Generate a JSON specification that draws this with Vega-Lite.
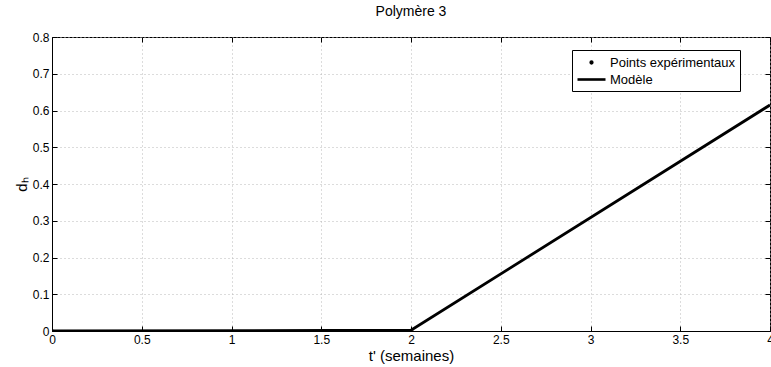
{
  "$schema": "https://vega.github.io/schema/vega-lite/v6.json",
  "width": 718,
  "height": 294,
  "autosize": {"type": "none"},
  "padding": {"left": 52, "top": 37, "right": 1, "bottom": 36},
  "background": "white",
  "config": {
    "font": "Liberation Sans",
    "view": {"stroke": "black", "strokeWidth": 1},
    "axis": {
      "domainColor": "black",
      "tickColor": "black",
      "labelColor": "black",
      "titleColor": "black",
      "labelFont": "Liberation Sans",
      "titleFont": "Liberation Sans",
      "labelFontSize": 12,
      "tickSize": -5,
      "gridColor": "#b8b8b8",
      "gridDash": [1, 3],
      "gridWidth": 1
    },
    "legend": {
      "title": null,
      "orient": "none",
      "legendX": 520,
      "legendY": 13,
      "direction": "vertical",
      "fillColor": "white",
      "strokeColor": "black",
      "padding": 4,
      "rowPadding": 1,
      "symbolSize": 196,
      "symbolStrokeWidth": 2.6,
      "symbolFillColor": "black",
      "labelFontSize": 13,
      "labelFont": "Liberation Sans",
      "labelColor": "black",
      "labelOffset": 17,
      "offset": 0
    }
  },
  "title": {"text": "Polymère 3", "fontSize": 14, "fontWeight": "normal", "font": "Liberation Sans", "color": "black", "offset": 12},
  "datasets": {
    "modele": [
      {"t": 0, "d": 0, "serie": "Modèle"},
      {"t": 2, "d": 0.002, "serie": "Modèle"},
      {"t": 4, "d": 0.615, "serie": "Modèle"}
    ],
    "points": [
      {"t": 0, "d": 0, "serie": "Points expérimentaux"},
      {"t": 2, "d": 0.002, "serie": "Points expérimentaux"}
    ]
  },
  "layer": [
    {
      "data": {"name": "modele"},
      "mark": {"type": "line", "color": "black", "strokeWidth": 2.8, "clip": true},
      "encoding": {
        "x": {"field": "t", "type": "quantitative", "scale": {"domain": [0, 4], "nice": false},
          "axis": {"values": [0, 0.5, 1, 1.5, 2, 2.5, 3, 3.5, 4], "format": ".1~f", "title": "t' (semaines)", "titleFontSize": 15, "titleFontWeight": "normal", "titlePadding": 3, "labelPadding": 8, "labelFlush": false, "grid": true}},
        "y": {"field": "d", "type": "quantitative", "scale": {"domain": [0, 0.8], "nice": false},
          "axis": {"values": [0, 0.1, 0.2, 0.3, 0.4, 0.5, 0.6, 0.7, 0.8], "title": "dₕ", "titleFontSize": 15, "titleFontWeight": "normal", "titlePadding": 3, "labelPadding": 8, "labelFlush": false, "grid": true, "format": ".1~f"}}
      }
    },
    {
      "data": {"name": "points"},
      "mark": {"type": "point", "filled": true, "color": "black", "strokeWidth": 2, "size": 6, "opacity": 1, "clip": true},
      "encoding": {
        "x": {"field": "t", "type": "quantitative", "axis": {"orient": "top", "labels": false, "title": null, "grid": false, "domain": false, "values": [0, 0.5, 1, 1.5, 2, 2.5, 3, 3.5, 4]}},
        "y": {"field": "d", "type": "quantitative", "axis": {"orient": "right", "labels": false, "title": null, "grid": false, "domain": false, "values": [0, 0.1, 0.2, 0.3, 0.4, 0.5, 0.6, 0.7, 0.8]}},
        "shape": {
          "field": "serie", "type": "nominal",
          "scale": {"domain": ["Points expérimentaux", "Modèle"], "range": ["M0.88,0A0.12,0.12 0 1,1 1.12,0A0.12,0.12 0 1,1 0.88,0Z", "M-1,0L3,0"]}
        },
        "stroke": {
          "field": "serie", "type": "nominal",
          "scale": {"domain": ["Points expérimentaux", "Modèle"], "range": ["black", "black"]}
        }
      }
    }
  ],
  "resolve": {"axis": {"x": "independent", "y": "independent"}}
}
